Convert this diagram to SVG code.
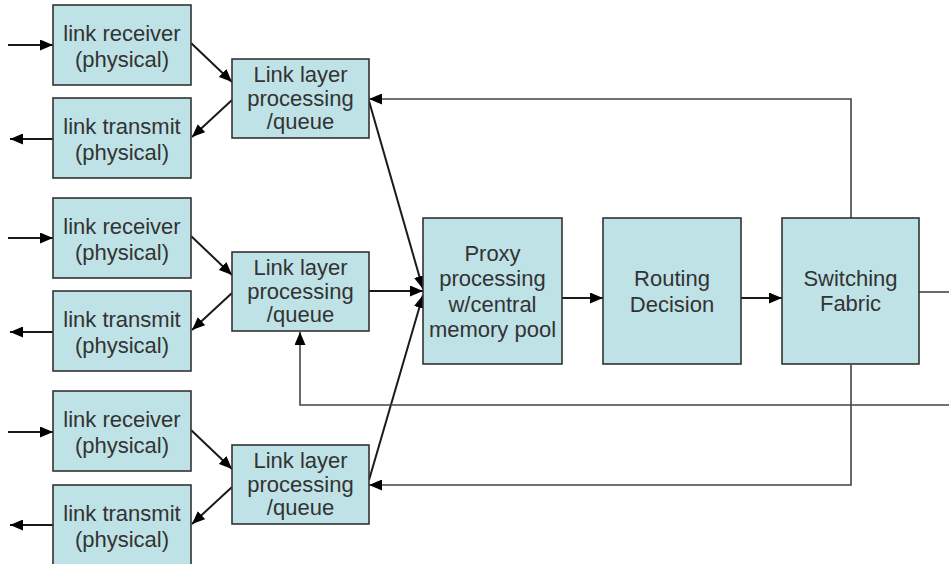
<svg xmlns="http://www.w3.org/2000/svg" width="949" height="564" viewBox="0 0 949 564">
  <style>
    .box { fill: #bee2e6; stroke: #333333; stroke-width: 1.6; }
    .lbl { font-family: "Liberation Sans", Arial, sans-serif; font-size: 22px; fill: #333333; text-anchor: middle; }
    .arr { fill: none; stroke: #1a1a1a; stroke-width: 2; marker-end: url(#head); }
    .ln  { fill: none; stroke: #444444; stroke-width: 1.6; }
    .lna { fill: none; stroke: #444444; stroke-width: 1.6; marker-end: url(#head); }
  </style>
  <defs>
    <marker id="head" markerUnits="userSpaceOnUse" markerWidth="14" markerHeight="11" refX="13" refY="5.5" orient="auto">
      <path d="M0,0 L13,5.5 L0,11 z" fill="#000000"/>
    </marker>
  </defs>
  <rect width="949" height="564" fill="#ffffff"/>

  <!-- connectors -->
  <g id="connectors">
    <!-- row 1 -->
    <line class="arr" x1="8" y1="45" x2="53" y2="45"/>
    <line class="arr" x1="53" y1="139" x2="10" y2="139"/>
    <line class="arr" x1="191" y1="43" x2="232" y2="82"/>
    <line class="arr" x1="232" y1="100" x2="192" y2="137"/>
    <!-- row 2 -->
    <line class="arr" x1="8" y1="238" x2="53" y2="238"/>
    <line class="arr" x1="53" y1="332" x2="10" y2="332"/>
    <line class="arr" x1="191" y1="236" x2="232" y2="275"/>
    <line class="arr" x1="232" y1="293" x2="192" y2="330"/>
    <!-- row 3 -->
    <line class="arr" x1="8" y1="432" x2="53" y2="432"/>
    <line class="arr" x1="53" y1="525" x2="10" y2="525"/>
    <line class="arr" x1="191" y1="430" x2="232" y2="469"/>
    <line class="arr" x1="232" y1="487" x2="192" y2="524"/>
    <!-- link layer into proxy -->
    <line class="arr" x1="369" y1="101" x2="423" y2="289"/>
    <line class="arr" x1="369" y1="291" x2="423" y2="291"/>
    <line class="arr" x1="369" y1="480" x2="423" y2="295"/>
    <!-- main pipeline -->
    <line class="arr" x1="562" y1="298" x2="603" y2="298"/>
    <line class="arr" x1="741" y1="298" x2="782" y2="298"/>
    <!-- switching fabric feedback paths -->
    <polyline class="lna" points="851,219 851,99 369,99"/>
    <polyline class="lna" points="851,365 851,485 369,485"/>
    <polyline class="lna" points="949,405 300,405 300,332"/>
    <line class="ln" x1="919" y1="292" x2="949" y2="292"/>
  </g>

  <!-- row 1 -->
  <g id="recv1">
    <rect class="box" x="53" y="5" width="138" height="80"/>
    <text class="lbl" x="122" y="41">link receiver</text>
    <text class="lbl" x="122" y="67">(physical)</text>
  </g>
  <g id="trans1">
    <rect class="box" x="53" y="98" width="138" height="80"/>
    <text class="lbl" x="122" y="134">link transmit</text>
    <text class="lbl" x="122" y="160">(physical)</text>
  </g>
  <g id="link1">
    <rect class="box" x="232" y="59" width="137" height="79"/>
    <text class="lbl" x="300.5" y="81.5">Link layer</text>
    <text class="lbl" x="300.5" y="105.5">processing</text>
    <text class="lbl" x="300.5" y="129">/queue</text>
  </g>

  <!-- row 2 -->
  <g id="recv2">
    <rect class="box" x="53" y="198" width="138" height="80"/>
    <text class="lbl" x="122" y="234">link receiver</text>
    <text class="lbl" x="122" y="260">(physical)</text>
  </g>
  <g id="trans2">
    <rect class="box" x="53" y="291" width="138" height="80"/>
    <text class="lbl" x="122" y="327">link transmit</text>
    <text class="lbl" x="122" y="353">(physical)</text>
  </g>
  <g id="link2">
    <rect class="box" x="232" y="252" width="137" height="79"/>
    <text class="lbl" x="300.5" y="274.5">Link layer</text>
    <text class="lbl" x="300.5" y="298.5">processing</text>
    <text class="lbl" x="300.5" y="322">/queue</text>
  </g>

  <!-- row 3 -->
  <g id="recv3">
    <rect class="box" x="53" y="391" width="138" height="80"/>
    <text class="lbl" x="122" y="427">link receiver</text>
    <text class="lbl" x="122" y="453">(physical)</text>
  </g>
  <g id="trans3">
    <rect class="box" x="53" y="485" width="138" height="80"/>
    <text class="lbl" x="122" y="521">link transmit</text>
    <text class="lbl" x="122" y="547">(physical)</text>
  </g>
  <g id="link3">
    <rect class="box" x="232" y="445" width="137" height="79"/>
    <text class="lbl" x="300.5" y="467.5">Link layer</text>
    <text class="lbl" x="300.5" y="491.5">processing</text>
    <text class="lbl" x="300.5" y="515">/queue</text>
  </g>

  <!-- central pipeline -->
  <g id="proxy">
    <rect class="box" x="423" y="218" width="139" height="146"/>
    <text class="lbl" x="492.5" y="261">Proxy</text>
    <text class="lbl" x="492.5" y="286">processing</text>
    <text class="lbl" x="492.5" y="311.5">w/central</text>
    <text class="lbl" x="492.5" y="337">memory pool</text>
  </g>
  <g id="routing">
    <rect class="box" x="603" y="218" width="138" height="146"/>
    <text class="lbl" x="672" y="286">Routing</text>
    <text class="lbl" x="672" y="312">Decision</text>
  </g>
  <g id="switching">
    <rect class="box" x="782" y="218" width="137" height="146"/>
    <text class="lbl" x="850.5" y="286">Switching</text>
    <text class="lbl" x="850.5" y="311">Fabric</text>
  </g>
</svg>
